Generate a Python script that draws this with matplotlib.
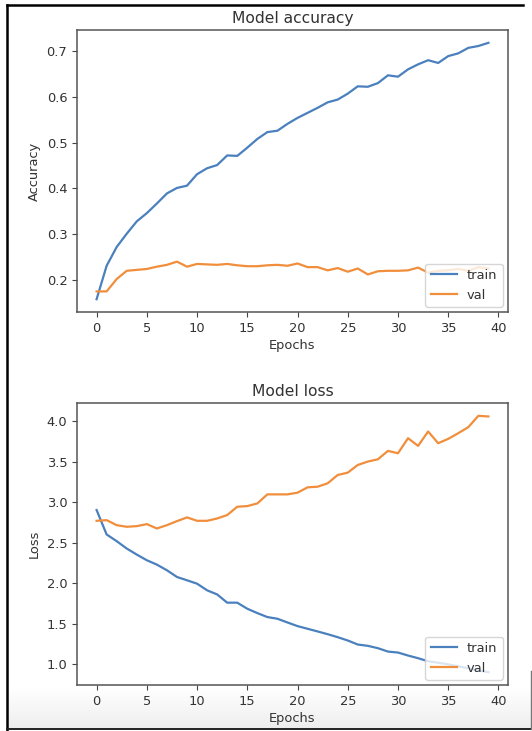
import numpy as np
import matplotlib
matplotlib.use("Agg")
import matplotlib.pyplot as plt
from matplotlib.lines import Line2D

# training history per epoch
epochs = np.arange(40)

acc_train = [0.158, 0.231, 0.272, 0.301, 0.328, 0.346, 0.367, 0.389, 0.401, 0.406,
             0.431, 0.444, 0.451, 0.472, 0.471, 0.489, 0.508, 0.523, 0.526, 0.541,
             0.554, 0.565, 0.576, 0.588, 0.594, 0.607, 0.623, 0.622, 0.630, 0.647,
             0.644, 0.660, 0.671, 0.680, 0.674, 0.689, 0.695, 0.707, 0.711, 0.718]
acc_val = [0.175, 0.175, 0.202, 0.220, 0.222, 0.224, 0.229, 0.233, 0.240, 0.229,
           0.235, 0.234, 0.233, 0.235, 0.232, 0.230, 0.230, 0.232, 0.233, 0.231,
           0.236, 0.228, 0.228, 0.221, 0.226, 0.218, 0.225, 0.212, 0.219, 0.220,
           0.220, 0.221, 0.227, 0.216, 0.220, 0.221, 0.224, 0.220, 0.228, 0.225]

loss_train = [2.904, 2.602, 2.519, 2.428, 2.353, 2.283, 2.229, 2.159, 2.076, 2.035,
              1.993, 1.911, 1.860, 1.758, 1.758, 1.683, 1.629, 1.580, 1.559, 1.513,
              1.468, 1.435, 1.402, 1.368, 1.331, 1.290, 1.240, 1.224, 1.195, 1.153,
              1.141, 1.104, 1.071, 1.033, 1.015, 0.995, 0.970, 0.948, 0.920, 0.898]
loss_val = [2.771, 2.779, 2.717, 2.697, 2.705, 2.730, 2.676, 2.717, 2.767, 2.813,
            2.771, 2.771, 2.800, 2.842, 2.945, 2.953, 2.986, 3.098, 3.098, 3.098,
            3.119, 3.185, 3.193, 3.235, 3.338, 3.367, 3.462, 3.504, 3.532, 3.636,
            3.607, 3.793, 3.698, 3.876, 3.731, 3.785, 3.855, 3.930, 4.070, 4.062]

acc_ticks = [0.2, 0.3, 0.4, 0.5, 0.6, 0.7]
loss_ticks = [1.0, 1.5, 2.0, 2.5, 3.0, 3.5, 4.0]
epoch_ticks = [0, 5, 10, 15, 20, 25, 30, 35, 40]

plt.rcParams["font.family"] = "DejaVu Sans"
plt.rcParams["font.size"] = 9.4
plt.rcParams["text.color"] = "#333333"
plt.rcParams["axes.labelcolor"] = "#333333"
plt.rcParams["xtick.color"] = "#444444"
plt.rcParams["ytick.color"] = "#444444"
plt.rcParams["xtick.labelcolor"] = "#333333"
plt.rcParams["ytick.labelcolor"] = "#333333"

W, H = 532, 731
fig = plt.figure(figsize=(W / 100, H / 100), dpi=100)

# light grey shading at the bottom of the window
bg = fig.add_axes([7 / W, 2 / H, 524 / W, 42 / H], zorder=-5)
grad = np.linspace(0.0, 1.0, 64).reshape(-1, 1)
bg.imshow(grad, aspect="auto", cmap="Greys", vmin=0, vmax=7, extent=[0, 1, 0, 1])
bg.set_axis_off()

blue = "#4a80bd"
orange = "#f08e3c"


def panel(rect, train, val, ticks, title, ylabel):
    ax = fig.add_axes(rect)
    ax.plot(epochs, train, color=blue, lw=1.6, label="train")
    ax.plot(epochs, val, color=orange, lw=1.6, label="val")
    ax.set_title(title, fontsize=11.2, pad=5)
    ax.set_ylabel(ylabel)
    ax.set_xlabel("Epochs", labelpad=3)
    ax.set_xticks(epoch_ticks)
    ax.set_yticks(ticks)
    for s in ax.spines.values():
        s.set_color("#555555")
        s.set_linewidth(1.1)
    ax.legend(loc="lower right", handlelength=2.0, borderaxespad=0.4)
    return ax


panel([77 / W, 1 - 312 / H, 431 / W, 282 / H], acc_train, acc_val, acc_ticks,
      "Model accuracy", "Accuracy")
panel([77 / W, 1 - 685 / H, 431 / W, 282 / H], loss_train, loss_val, loss_ticks,
      "Model loss", "Loss")

# window frame
fig.add_artist(Line2D([7 / W, 7 / W], [0.002, 1 - 5 / H], color="black", lw=1.8))
fig.add_artist(Line2D([7 / W, 523 / W], [1 - 5 / H, 1 - 5 / H], color="black", lw=1.8))
fig.add_artist(Line2D([7 / W, 1], [2 / H, 2 / H], color="#222222", lw=1.4))
fig.add_artist(Line2D([530.5 / W, 530.5 / W], [2 / H, 60 / H], color="#777777", lw=1.0))

fig.savefig("out.png", dpi=100)
